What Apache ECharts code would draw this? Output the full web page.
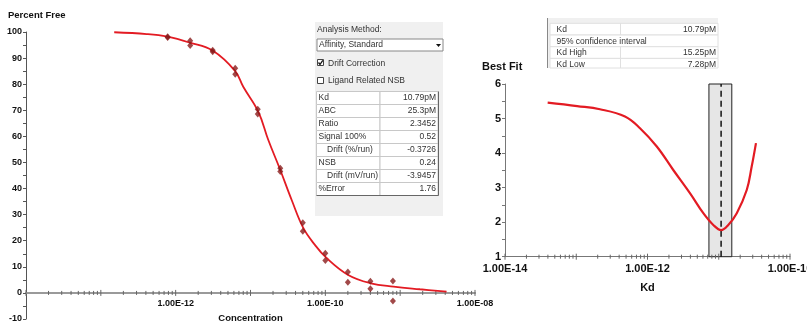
<!DOCTYPE html>
<html>
<head>
<meta charset="utf-8">
<script src="https://cdn.jsdelivr.net/npm/echarts@6/dist/echarts.min.js"></script>
<style>
html, body { margin: 0; padding: 0; background: #fff; }
#chart { width: 807px; height: 323px; }
</style>
</head>
<body>
<div id="chart"></div>
<script>
// concentrations (2-fold dilution series), two readings each
var concentrations = [7.8125e-13, 1.5625e-12, 3.125e-12, 6.25e-12, 1.25e-11, 2.5e-11, 5e-11, 1e-10, 2e-10, 4e-10, 8e-10];
var freeRep1 = [98.2, 96.6, 93.0, 86.1, 70.4, 47.8, 26.9, 15.2, 8.0, 4.5, 4.6];
var freeRep2 = [97.9, 94.8, 92.4, 83.8, 68.6, 46.5, 23.6, 12.4, 4.1, 1.6, -3.1];

// fitted curve
var fitConc = [1.51e-13, 4.10e-13, 7.73e-13, 1.55e-12, 3.15e-12, 6.25e-12, 8.0e-12, 1.27e-11, 1.73e-11,
               2.47e-11, 3.55e-11, 5.07e-11, 7.26e-11, 1.02e-10, 2.02e-10, 4.06e-10, 8.17e-10, 1.84e-9, 4.17e-9];
var fitFree = [99.9, 99.2, 98.2, 95.9, 92.8, 85.0, 79.0, 69.5, 58.6,
               47.5, 35.6, 24.9, 18.4, 13.6, 6.9, 3.7, 2.4, 1.4, 0.5];

// best fit curve (fit error vs Kd)
var kdGrid = [3.97e-14, 1.03e-13, 2.15e-13, 4.83e-13, 7.85e-13, 1.35e-12, 2.30e-12, 3.94e-12, 6.07e-12,
              8.38e-12, 1.08e-11, 1.36e-11, 1.79e-11, 2.47e-11, 2.90e-11, 3.33e-11];
var kdError = [5.46, 5.36, 5.27, 5.06, 4.72, 4.19, 3.51, 2.84, 2.26,
               1.92, 1.77, 1.92, 2.26, 2.93, 3.61, 4.29];
var kdBest = 1.079e-11;
var kdLow = 7.28e-12;
var kdHigh = 1.525e-11;

var leftYTicks = [-10, 100, 10];
var rightYTicks = [1, 6, 1];

var resultRows = [
    ['Kd', '10.79pM', 0], ['ABC', '25.3pM', 0], ['Ratio', '2.3452', 0], ['Signal 100%', '0.52', 0],
    ['Drift (%/run)', '-0.3726', 1], ['NSB', '0.24', 0], ['Drift (mV/run)', '-3.9457', 1], ['%Error', '1.76', 0]
];
var kdRows = [['Kd', '10.79pM'], ['95% confidence interval', ''], ['Kd High', '15.25pM'], ['Kd Low', '7.28pM']];

var FONT = "'Liberation Sans', Arial, sans-serif";
var UI_FONT = "8.5px 'Liberation Sans', Arial, sans-serif";

var LEFT_GRID = { left: 26, top: 32, width: 449, height: 287 };
// the concentration axis sits on y = 0, inside the grid
var zeroOffset = LEFT_GRID.height * (0 - leftYTicks[0]) / (leftYTicks[1] - leftYTicks[0]);

function pair(xs, ys) {
    return xs.map(function (x, i) { return [x, ys[i]]; });
}

// 1.00E-08 style
function expLabel(v) {
    var e = Math.round(Math.log10(v));
    var m = v / Math.pow(10, e);
    var ex = Math.abs(e) < 10 ? '0' + Math.abs(e) : '' + Math.abs(e);
    return m.toFixed(2) + 'E' + (e < 0 ? '-' : '+') + ex;
}

// log axis ticks at 1..9 x 10^n (major at each decade)
function logTicks(fromExp, toExp, base) {
    var out = [];
    for (var e = fromExp; e < toExp; e++) {
        for (var k = 1; k <= 9; k++) {
            out.push([k * Math.pow(10, e), base, k === 1 ? 3 : 2]);
        }
    }
    out.push([Math.pow(10, toExp), base, 3]);
    return out;
}

function renderTick(params, api) {
    var p = api.coord([api.value(0), api.value(1)]);
    var len = api.value(2);
    return {
        type: 'line',
        shape: { x1: p[0], y1: p[1] - len, x2: p[0], y2: p[1] + len },
        style: { stroke: '#666', lineWidth: 1 }
    };
}

function uiText(x, y, text, align) {
    return {
        type: 'text', x: x, y: y, silent: true,
        style: { text: text, font: UI_FONT, fill: '#333', align: align || 'left', verticalAlign: 'middle' }
    };
}

function buildGraphics() {
    var g = [];
    // chart titles
    g.push({ type: 'text', x: 8, y: 15, style: { text: 'Percent Free', font: 'bold 9.5px ' + FONT, fill: '#111', verticalAlign: 'middle' } });
    g.push({ type: 'text', x: 482, y: 67, style: { text: 'Best Fit', font: 'bold 11px ' + FONT, fill: '#111', verticalAlign: 'middle' } });

    // analysis panel
    g.push({ type: 'rect', shape: { x: 315, y: 22, width: 128, height: 194 }, style: { fill: '#f0f0f0' }, silent: true });
    g.push(uiText(317, 30, 'Analysis Method:'));
    g.push({ type: 'rect', shape: { x: 317, y: 39, width: 126, height: 12 }, style: { fill: '#fff', stroke: '#888', lineWidth: 1 }, silent: true });
    g.push(uiText(319, 45, 'Affinity, Standard'));
    g.push({ type: 'polygon', shape: { points: [[436, 44], [441, 44], [438.5, 47]] }, style: { fill: '#111' }, silent: true });

    g.push({ type: 'rect', shape: { x: 317.5, y: 59.5, width: 6, height: 6 }, style: { fill: '#fff', stroke: '#444', lineWidth: 1 }, silent: true });
    g.push({ type: 'polyline', shape: { points: [[318.5, 62.5], [320, 64.5], [322.8, 60.3]] }, style: { stroke: '#111', lineWidth: 1.3, fill: null }, silent: true });
    g.push(uiText(328, 63.5, 'Drift Correction'));
    g.push({ type: 'rect', shape: { x: 317.5, y: 77.5, width: 6, height: 6 }, style: { fill: '#fff', stroke: '#444', lineWidth: 1 }, silent: true });
    g.push(uiText(328, 81, 'Ligand Related NSB'));

    var top = 91.5, rowH = 13;
    resultRows.forEach(function (r, i) {
        var y = top + i * rowH;
        g.push({ type: 'rect', shape: { x: 316.5, y: y, width: 63.5, height: rowH }, style: { fill: '#fff', stroke: '#c8c8c8', lineWidth: 1 }, silent: true });
        g.push({ type: 'rect', shape: { x: 380, y: y, width: 58, height: rowH }, style: { fill: '#fff', stroke: '#c8c8c8', lineWidth: 1 }, silent: true });
        g.push(uiText(r[2] ? 327 : 318.5, y + rowH / 2, r[0]));
        g.push(uiText(436, y + rowH / 2, r[1], 'right'));
    });
    var bottom = top + resultRows.length * rowH;
    g.push({ type: 'polyline', shape: { points: [[438.5, top], [438.5, bottom], [316.5, bottom]] }, style: { stroke: '#666', lineWidth: 1, fill: null }, silent: true });

    // Kd table (top right)
    g.push({ type: 'rect', shape: { x: 547, y: 18, width: 171, height: 50 }, style: { fill: '#f0f0f0' }, silent: true });
    g.push({ type: 'line', shape: { x1: 547.5, y1: 18, x2: 547.5, y2: 68 }, style: { stroke: '#888', lineWidth: 1 }, silent: true });
    var kTop = 23.3, kH = 11.7;
    kdRows.forEach(function (r, i) {
        var y = kTop + i * kH;
        var h = Math.min(kH, 68 - y);
        g.push({ type: 'rect', shape: { x: 550, y: y, width: 168, height: h }, style: { fill: '#fff', stroke: '#e0e0e0', lineWidth: 1 }, silent: true });
        if (r[1]) {
            g.push({ type: 'line', shape: { x1: 620.5, y1: y, x2: 620.5, y2: y + h }, style: { stroke: '#e0e0e0', lineWidth: 1 }, silent: true });
            g.push(uiText(716, y + kH / 2 + 0.5, r[1], 'right'));
        }
        g.push(uiText(556.5, y + kH / 2 + 0.5, r[0]));
    });
    return g;
}

var chart = echarts.init(document.getElementById('chart'));

chart.setOption({
    animation: false,
    backgroundColor: '#fff',
    textStyle: { fontFamily: FONT },
    grid: [
        Object.assign({ outerBoundsMode: 'none', containLabel: false }, LEFT_GRID),
        { left: 505, top: 84, width: 285, height: 172.7, outerBoundsMode: 'none', containLabel: false }
    ],
    xAxis: [{
        gridIndex: 0,
        type: 'log',
        logBase: 10,
        min: 1e-14,
        max: 1e-8,
        position: 'bottom',
        offset: -zeroOffset,
        name: 'Concentration',
        nameLocation: 'middle',
        nameGap: 20,
        nameTextStyle: { fontWeight: 'bold', fontSize: 9.5, color: '#111' },
        axisLine: { onZero: false, lineStyle: { color: '#9a9a9a', width: 2 } },
        axisTick: { show: false },
        splitLine: { show: false },
        axisLabel: {
            margin: 6, fontWeight: 'bold', fontSize: 9, color: '#111',
            formatter: function (v) {
                var e = Math.round(Math.log10(v));
                return (e % 2 === 0 && e > -14) ? expLabel(v) : '';
            }
        }
    }, {
        gridIndex: 1,
        type: 'log',
        logBase: 10,
        min: 1e-14,
        max: 1e-10,
        name: 'Kd',
        nameLocation: 'middle',
        nameGap: 26,
        nameTextStyle: { fontWeight: 'bold', fontSize: 11, color: '#111' },
        axisLine: { onZero: false, lineStyle: { color: '#777', width: 1 } },
        axisTick: { show: false },
        splitLine: { show: false },
        axisLabel: {
            margin: 7, fontWeight: 'bold', fontSize: 11, color: '#111',
            formatter: function (v) {
                var e = Math.round(Math.log10(v));
                return e % 2 === 0 ? expLabel(v) : '';
            }
        }
    }],
    yAxis: [{
        gridIndex: 0,
        type: 'value',
        min: leftYTicks[0],
        max: leftYTicks[1],
        interval: leftYTicks[2],
        axisLine: { show: true, onZero: false, lineStyle: { color: '#555' } },
        axisTick: { show: true, length: 3, lineStyle: { color: '#555' } },
        minorTick: { show: true, splitNumber: 2, length: 3, lineStyle: { color: '#555' } },
        splitLine: { show: false },
        axisLabel: { margin: 4, fontWeight: 'bold', fontSize: 9, color: '#111' }
    }, {
        gridIndex: 1,
        type: 'value',
        min: rightYTicks[0],
        max: rightYTicks[1],
        interval: rightYTicks[2],
        axisLine: { show: true, onZero: false, lineStyle: { color: '#777' } },
        axisTick: { show: true, length: 3, lineStyle: { color: '#777' } },
        minorTick: { show: true, splitNumber: 2, length: 3, lineStyle: { color: '#777' } },
        splitLine: { show: false },
        axisLabel: { margin: 4, fontWeight: 'bold', fontSize: 11, color: '#111' }
    }],
    series: [{
        type: 'custom',
        xAxisIndex: 0, yAxisIndex: 0,
        renderItem: renderTick,
        data: logTicks(-14, -8, 0),
        silent: true, z: 3
    }, {
        type: 'custom',
        xAxisIndex: 1, yAxisIndex: 1,
        renderItem: renderTick,
        data: logTicks(-14, -10, 1),
        silent: true, z: 3
    }, {
        type: 'line',
        xAxisIndex: 0, yAxisIndex: 0,
        data: pair(fitConc, fitFree),
        smooth: 0.4,
        showSymbol: false,
        lineStyle: { color: '#e31b23', width: 1.8 },
        silent: true, z: 4
    }, {
        type: 'scatter',
        xAxisIndex: 0, yAxisIndex: 0,
        data: pair(concentrations, freeRep1).concat(pair(concentrations, freeRep2)),
        symbol: 'diamond',
        symbolSize: [6, 7],
        itemStyle: { color: '#8a1c1c' },
        silent: true, z: 5
    }, {
        // confidence band for Kd
        type: 'line',
        xAxisIndex: 1, yAxisIndex: 1,
        data: [],
        silent: true, z: 2,
        markArea: {
            silent: true,
            itemStyle: { color: '#e6e6e6', borderColor: '#222', borderWidth: 1 },
            data: [[{ xAxis: kdLow }, { xAxis: kdHigh }]]
        }
    }, {
        // best Kd marker
        type: 'line',
        xAxisIndex: 1, yAxisIndex: 1,
        data: [[kdBest, rightYTicks[0]], [kdBest, rightYTicks[1]]],
        showSymbol: false,
        lineStyle: { color: '#111', type: [6, 4], width: 1.5 },
        silent: true, z: 3
    }, {
        type: 'line',
        xAxisIndex: 1, yAxisIndex: 1,
        data: pair(kdGrid, kdError),
        smooth: 0.4,
        showSymbol: false,
        lineStyle: { color: '#e31b23', width: 2.2 },
        silent: true, z: 4
    }],
    graphic: buildGraphics()
});
</script>
</body>
</html>
